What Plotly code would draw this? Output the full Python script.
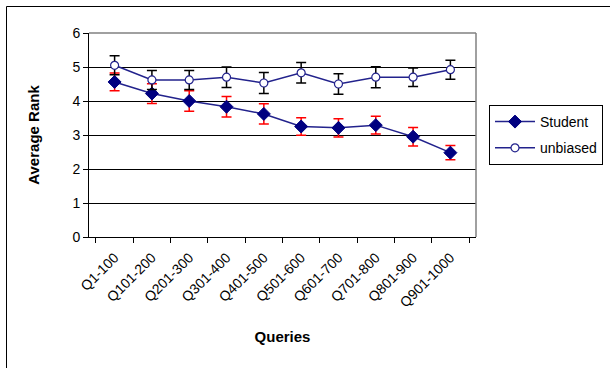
import plotly.graph_objects as go

categories = ["Q1-100", "Q101-200", "Q201-300", "Q301-400", "Q401-500",
              "Q501-600", "Q601-700", "Q701-800", "Q801-900", "Q901-1000"]
student = [4.56, 4.22, 4.00, 3.83, 3.62, 3.25, 3.21, 3.29, 2.95, 2.48]
student_err = [0.26, 0.29, 0.30, 0.30, 0.30, 0.26, 0.27, 0.26, 0.27, 0.21]
unbiased = [5.05, 4.62, 4.62, 4.70, 4.53, 4.83, 4.50, 4.70, 4.70, 4.92]
unbiased_err = [0.28, 0.28, 0.28, 0.30, 0.31, 0.30, 0.30, 0.31, 0.27, 0.28]

navy = "#000080"
line_col = "#22228c"
font = "Liberation Sans, Arial, sans-serif"

fig = go.Figure()
fig.add_trace(go.Scatter(
    x=categories, y=student, name="Student", mode="lines+markers", legendgroup="s",
    line=dict(color=line_col, width=1.5),
    marker=dict(symbol="diamond", size=10, color=navy, line=dict(color=navy, width=1)),
    error_y=dict(type="data", array=student_err, color="#ff0000", thickness=1.5, width=5),
))
fig.add_trace(go.Scatter(
    x=categories, y=unbiased, name="unbiased", mode="lines+markers", legendgroup="u",
    line=dict(color=line_col, width=1.5),
    marker=dict(symbol="circle", size=8, color="white", line=dict(color=line_col, width=1.2)),
    error_y=dict(type="data", array=unbiased_err, color="#000000", thickness=1.5, width=5),
))

L, T, W, H = 89, 33, 387, 204
fig.update_layout(
    width=610, height=368,
    margin=dict(l=L, r=610 - L - W, t=T, b=368 - T - H, autoexpand=False),
    paper_bgcolor="white", plot_bgcolor="white",
    font=dict(family=font, size=14, color="black"),
    showlegend=True,
    legend=dict(x=(489 - L) / W, y=(T + H - 105) / H, xanchor="left", yanchor="top",
                bordercolor="black", borderwidth=1, bgcolor="white",
                font=dict(size=14, family=font), itemwidth=40, tracegroupgap=5),
    xaxis=dict(type="category", tickson="boundaries", ticks="outside", ticklen=5,
               tickcolor="black", showline=True, linecolor="black", linewidth=1,
               showgrid=False, tickangle=-45, tickfont=dict(size=14),
               ticklabelstandoff=6,
               title=dict(text="<b>Queries</b>", font=dict(size=15), standoff=22)),
    yaxis=dict(range=[0, 6], dtick=1, ticks="outside", ticklen=5, tickcolor="black",
               showline=True, linecolor="black", linewidth=1, zeroline=False,
               showgrid=True, gridcolor="black", gridwidth=1, tickfont=dict(size=14),
               title=dict(text="<b>Average Rank</b>", font=dict(size=15), standoff=29)),
    shapes=[
        dict(type="line", xref="paper", yref="paper", x0=0, x1=1, y0=1, y1=1,
             line=dict(color="#808080", width=1.5), layer="above"),
        dict(type="line", xref="paper", yref="paper", x0=1, x1=1, y0=0, y1=1,
             line=dict(color="#808080", width=1.5), layer="above"),
        dict(type="rect", xref="paper", yref="paper",
             x0=(6.5 - L) / W, x1=(640 - L) / W,
             y0=(T + H - 400) / H, y1=(T + H - 6.5) / H,
             line=dict(color="black", width=1), layer="below"),
    ],
)

fig.write_html("out.html", config={"displayModeBar": False},
               post_script="document.body.style.margin='0';")
